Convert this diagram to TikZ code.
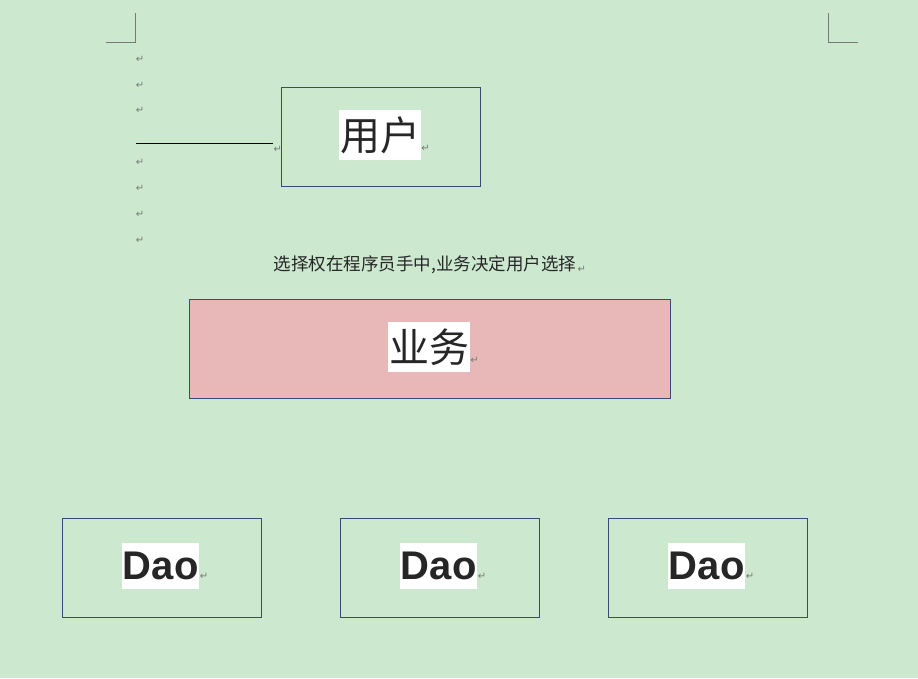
\documentclass[tikz,border=0pt]{standalone}
\usepackage{fontspec}
\setmainfont{Liberation Serif}
\newfontfamily\cjk{Noto Sans CJK SC}
\newfontfamily\arialfont{Liberation Sans}
\newfontfamily\symfont{DejaVu Sans}
\usepackage{tikz}
\usetikzlibrary{positioning}
\definecolor{bggreen}{RGB}{204,232,207}
\definecolor{boxline}{RGB}{55,75,115}
\definecolor{pinkfill}{RGB}{232,184,184}
\definecolor{markgray}{RGB}{120,120,120}
\tikzstyle{mybox} = [draw=boxline, rectangle, anchor=north west, minimum width=199pt, minimum height=99pt, inner sep=0pt]
\tikzstyle{pinkbox} = [mybox, fill=pinkfill, minimum width=481pt]
\tikzstyle{cjktitle} = [fill=white, inner xsep=1pt, inner ysep=0pt, minimum height=50pt, font=\cjk\fontsize{40}{44}\selectfont, text=black!85]
\tikzstyle{daotitle} = [fill=white, inner xsep=1pt, inner ysep=0pt, minimum height=46pt, font=\arialfont\bfseries\fontsize{40}{44}\selectfont, text=black!85]
\tikzstyle{retmark} = [inner sep=0pt, text=markgray, font=\symfont\fontsize{10}{10}\selectfont]
\tikzstyle{cropmark} = [draw=markgray, line width=0.8pt]

\begin{document}
\begin{tikzpicture}[x=1pt, y=-1pt]
\fill[bggreen] (0,0) rectangle (918,678);
\useasboundingbox (0,0) rectangle (918,678);
% page corners
\coordinate (tl1) at (135,13); \coordinate (tl2) at (135,42); \coordinate (tl3) at (106,42);
\coordinate (tr1) at (828,13); \coordinate (tr2) at (828,42); \coordinate (tr3) at (858,42);
\draw[cropmark] (tl1) -- (tl2) -- (tl3);
\draw[cropmark] (tr1) -- (tr2) -- (tr3);
% empty paragraphs
\foreach \y [count=\i] in {59,85,110,162,188,214,240}
  \node[retmark] (ret\i) at (140,\y) {↵};
\coordinate (rulestart) at (136,143);
\coordinate (ruleend) at (273,143);
\draw[black, line width=0.8pt] (rulestart) -- (ruleend);
\node[retmark, right=0.5pt of ruleend, yshift=-6pt] (retrule) {↵};
% user
\node[mybox] (user) at (281,87) {};
\node[cjktitle] (userlabel) at (380,135) {用户};
\node[retmark, anchor=south west] (retuser) at ([yshift=9pt]userlabel.south east) {↵};
\node[font=\cjk\fontsize{17.5}{19}\selectfont, text=black!85, inner sep=0pt] (note) at (425,265) {选择权在程序员手中,业务决定用户选择};
\node[retmark, anchor=south west] (retnote) at ([xshift=1pt,yshift=2pt]note.south east) {↵};
% service
\node[pinkbox] (service) at (189,299) {};
\node[cjktitle] (servicelabel) at (429,347) {业务};
\node[retmark, anchor=south west] (retservice) at ([yshift=9pt]servicelabel.south east) {↵};
% dao layer
\foreach \x [count=\i] in {62,340,608} {
  \node[mybox] (dao\i) at (\x,518) {};
  \node[daotitle] (daolabel\i) at ([xshift=-1pt,yshift=2pt]dao\i.center) {Dao};
  \node[retmark, anchor=south west] (retdao\i) at ([yshift=9pt]daolabel\i.south east) {↵};
}
\end{tikzpicture}
\end{document}
